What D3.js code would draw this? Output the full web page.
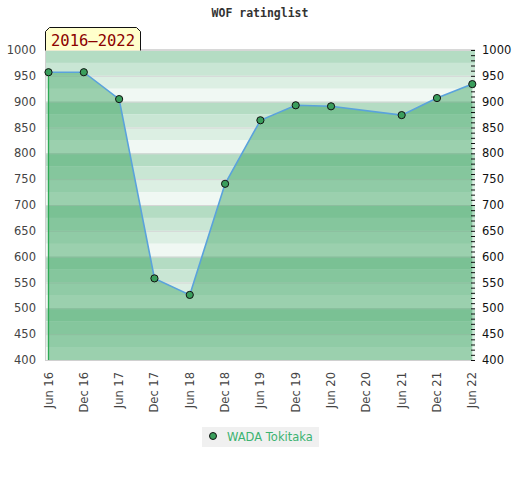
<!DOCTYPE html>
<html><head><meta charset="utf-8">
<script src="https://cdn.jsdelivr.net/npm/d3@7/dist/d3.min.js"></script>
<style>body{margin:0;background:#fff}</style>
</head><body>
<svg id="c" width="520" height="480"></svg>
<script>
const categories = ["Jun 16","Dec 16","Jun 17","Dec 17","Jun 18","Dec 18","Jun 19","Dec 19","Jun 20","Dec 20","Jun 21","Dec 21","Jun 22"];
const ratings = [957, 957, 905, 558, 526, 741, 864, 893, 891, null, 874, 907, 934];
const yTicks = [400,450,500,550,600,650,700,750,800,850,900,950,1000];
const seriesName = "WADA Tokitaka";
const periodLabel = "2016\u20132022";
const chartTitle = "WOF ratinglist";

const svg = d3.select("#c");
const L = 45, R = 475, T = 50, B = 360;
const x = d3.scalePoint().domain(categories).range([48.5, 472.3]);
const y = d3.scaleLinear().domain([400, 1000]).range([B, T]);

// stripes
const stripeCols = ["#b4dcc3", "#c9e6d4", "#dcefe3", "#f0f8f3"];
const stripes = [];
for (let v = 1000; v > 400; v -= 25) stripes.push(v);
svg.append("g").selectAll("rect").data(stripes).join("rect")
  .attr("x", L).attr("width", R - L)
  .attr("y", d => y(d)).attr("height", d => y(d - 25) - y(d))
  .attr("fill", d => stripeCols[Math.round((1000 - d) / 25) % 4]);
// grid lines
svg.append("g").selectAll("line").data(yTicks).join("line")
  .attr("x1", L).attr("x2", R).attr("y1", d => y(d)+0.5).attr("y2", d => y(d)+0.5)
  .attr("stroke", "#d6d6d6").attr("stroke-width", 1);

const pts = categories.map((c, i) => ({c, v: ratings[i]})).filter(d => d.v != null);

// area
const area = d3.area().x(d => x(d.c)).y0(y(400)).y1(d => y(d.v));
svg.append("path").datum(pts).attr("d", area)
  .attr("fill", "rgba(50,160,90,0.45)");
// area side edges
svg.append("line").attr("x1", x(pts[0].c)).attr("x2", x(pts[0].c))
  .attr("y1", y(pts[0].v)).attr("y2", B).attr("stroke", "#2eaa55").attr("stroke-width", 1.3);

// borders
svg.append("line").attr("x1", L+0.5).attr("x2", L+0.5).attr("y1", T).attr("y2", B+1).attr("stroke", "#d0d0d0");
svg.append("line").attr("x1", L).attr("x2", R).attr("y1", B+0.5).attr("y2", B+0.5).attr("stroke", "#d0d0d0");
svg.append("line").attr("x1", L).attr("x2", R).attr("y1", T-0.5).attr("y2", T-0.5).attr("stroke", "#d8d8d8");

// line
const line = d3.line().x(d => x(d.c)).y(d => y(d.v));
svg.append("path").datum(pts).attr("d", line)
  .attr("fill", "none").attr("stroke", "#5aa2dc").attr("stroke-width", 1.6);

// right axis minor ticks
const minor = d3.range(400, 1001, 10);
svg.append("g").selectAll("line").data(minor).join("line")
  .attr("x1", 471).attr("x2", 475).attr("y1", d => y(d)+0.5).attr("y2", d => y(d)+0.5)
  .attr("stroke", "#111").attr("stroke-width", 1);

// points
svg.append("g").selectAll("circle").data(pts).join("circle")
  .attr("cx", d => x(d.c)).attr("cy", d => y(d.v)).attr("r", 3.6)
  .attr("fill", "#3a9e5c").attr("stroke", "#111").attr("stroke-width", 1);

// left axis labels
svg.append("g").selectAll("text").data(yTicks).join("text")
  .attr("x", 36).attr("y", d => y(d)).attr("dy", "0.35em")
  .attr("text-anchor", "end").attr("font-family", "DejaVu Sans").attr("font-size", 11.5)
  .attr("fill", "#444").text(d => d);
// right axis labels
svg.append("g").selectAll("text").data(yTicks).join("text")
  .attr("x", 482).attr("y", d => y(d)).attr("dy", "0.35em")
  .attr("text-anchor", "start").attr("font-family", "DejaVu Sans").attr("font-size", 11.5)
  .attr("fill", "#111").text(d => d);
// x labels
svg.append("g").selectAll("text").data(categories).join("text")
  .attr("transform", d => `translate(${x(d)+4},372) rotate(-90)`)
  .attr("text-anchor", "end").attr("font-family", "DejaVu Sans").attr("font-size", 11.5)
  .attr("fill", "#444").text(d => d);

// title
svg.append("text").attr("x", 260).attr("y", 17).attr("text-anchor", "middle")
  .attr("font-family", "DejaVu Sans Mono").attr("font-weight", "bold").attr("font-size", 11.5)
  .attr("fill", "#333").text(chartTitle);

// period box
const bx0 = 45.5, bx1 = 140.5, by0 = 27.5, by1 = 50.5, cut = 4;
svg.append("path").attr("d", `M${bx0},${by1} L${bx0},${by0+cut} L${bx0+cut},${by0} L${bx1-cut},${by0} L${bx1},${by0+cut} L${bx1},${by1}`)
  .attr("fill", "#ffffcc").attr("stroke", "#111").attr("stroke-width", 1);
svg.append("text").attr("x", 93).attr("y", 46).attr("text-anchor", "middle")
  .attr("font-family", "DejaVu Sans Mono").attr("font-size", 15.5)
  .attr("fill", "#8b0000").text(periodLabel);

// legend
svg.append("rect").attr("x", 202).attr("y", 427).attr("width", 117).attr("height", 20).attr("fill", "#f0f0f0");
svg.append("circle").attr("cx", 213).attr("cy", 436).attr("r", 3.5)
  .attr("fill", "#3a9e5c").attr("stroke", "#111").attr("stroke-width", 1);
svg.append("text").attr("x", 227).attr("y", 437).attr("dy", "0.35em")
  .attr("font-family", "DejaVu Sans").attr("font-size", 11.5)
  .attr("fill", "#3cb371").text(seriesName);
</script>
</body></html>
